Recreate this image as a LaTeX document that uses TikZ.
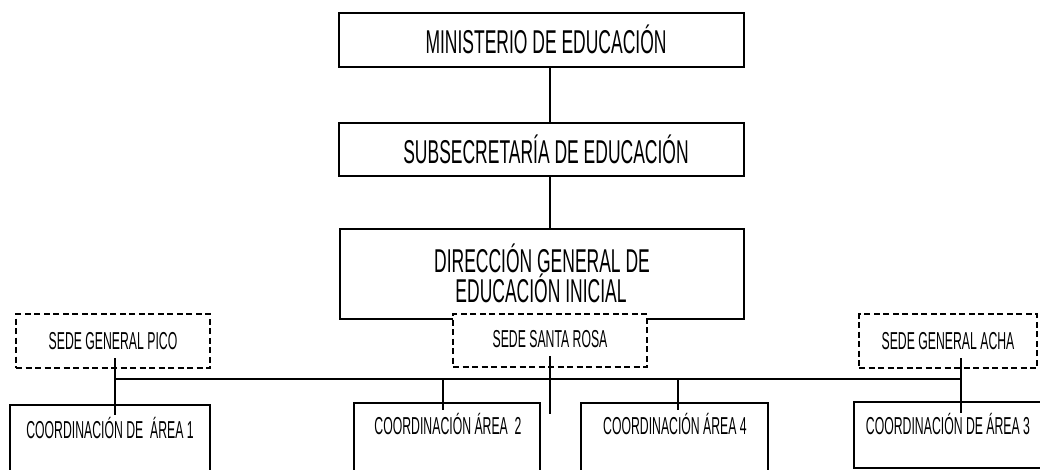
\documentclass[tikz,border=0pt]{standalone}
\usepackage{fontspec}
\newfontfamily\nf[FakeStretch=0.5]{Liberation Sans}
\newfontfamily\nfbig[FakeStretch=0.53]{Liberation Sans}
\begin{document}
\begin{tikzpicture}[x=1pt,y=-1pt,
  box/.style={draw,line width=1.6pt,inner sep=0pt},
  dbox/.style={draw,line width=1.5pt,dash pattern=on 6pt off 3.5pt,fill=white,inner sep=0pt},
  big/.style={font=\nfbig\fontsize{33}{36}\selectfont,align=center},
  small/.style={font=\nf\fontsize{24.5}{27}\selectfont},
  thinline/.style={line width=1.1pt},
  thickline/.style={line width=2pt}]
\useasboundingbox (0,0) rectangle (1040,469);
\clip (0,0) rectangle (1040,469);

% upper chain
\node[box,minimum width=405pt,minimum height=54pt] (min) at (541.5,40) {};
\node[big,anchor=base] (mint) at (546,53) {MINISTERIO DE EDUCACIÓN};
\node[box,minimum width=405pt,minimum height=53pt] (sub) at (541.5,149.5) {};
\node[big,anchor=base] (subt) at (546,163) {SUBSECRETARÍA DE EDUCACIÓN};
\node[box,minimum width=404pt,minimum height=90pt] (dir) at (542,274) {};
\node[big,anchor=base] (dirt1) at (542,272) {DIRECCIÓN GENERAL DE};
\node[big,anchor=base] (dirt2) at (541,302) {EDUCACIÓN INICIAL};

% sedes
\node[dbox,minimum width=194pt,minimum height=53pt] (sr) at (550,340.5) {};
\node[small,anchor=base] (srt) at (550,347) {SEDE SANTA ROSA};
\node[dbox,minimum width=194pt,minimum height=54pt] (pico) at (113,341) {};
\node[small,anchor=base] (picot) at (113,349) {SEDE GENERAL PICO};
\node[dbox,minimum width=178pt,minimum height=54pt] (acha) at (948,341) {};
\node[small,anchor=base] (achat) at (948,349) {SEDE GENERAL ACHA};

% coordinaciones
\node[box,minimum width=200pt,minimum height=80pt] (c1) at (110,445) {};
\node[small,anchor=base] (c1t) at (110,438) {COORDINACIÓN DE \ ÁREA 1};
\node[box,minimum width=186pt,minimum height=80pt] (c2) at (447,443) {};
\node[small,anchor=base] (c2t) at (448,434) {COORDINACIÓN ÁREA \ 2};
\node[box,minimum width=187pt,minimum height=80pt] (c4) at (674.5,443) {};
\node[small,anchor=base] (c4t) at (675,434) {COORDINACIÓN ÁREA 4};
\node[box,minimum width=188pt,minimum height=66pt] (c3) at (948,435) {};
\node[small,anchor=base] (c3t) at (948,434) {COORDINACIÓN DE ÁREA 3};

% connectors
\draw[thinline] ([xshift=8.5pt]min.south) -- ([xshift=8.5pt]sub.north);
\draw[thinline] ([xshift=8.5pt]sub.south) -- ([xshift=8pt]dir.north);

\coordinate (busL) at (115,379);
\coordinate (busR) at (961,379);
\coordinate (picoS) at (115,358);
\coordinate (picoE) at (115,415);
\coordinate (achaS) at (961,358);
\coordinate (achaE) at (961,413);
\coordinate (srS) at (550,356);
\coordinate (srE) at (550,414);
\coordinate (b2) at (443,379);
\coordinate (b2E) at (443,410);
\coordinate (b4) at (678,379);
\coordinate (b4E) at (678,410);

\draw[thickline] (busL) -- (busR);
\draw[thickline] (picoS) -- (picoE);
\draw[thickline] (achaS) -- (achaE);
\draw[thinline] (srS) -- (srE);
\draw[thinline] (b2) -- (b2E);
\draw[thinline] (b4) -- (b4E);
\end{tikzpicture}
\end{document}
